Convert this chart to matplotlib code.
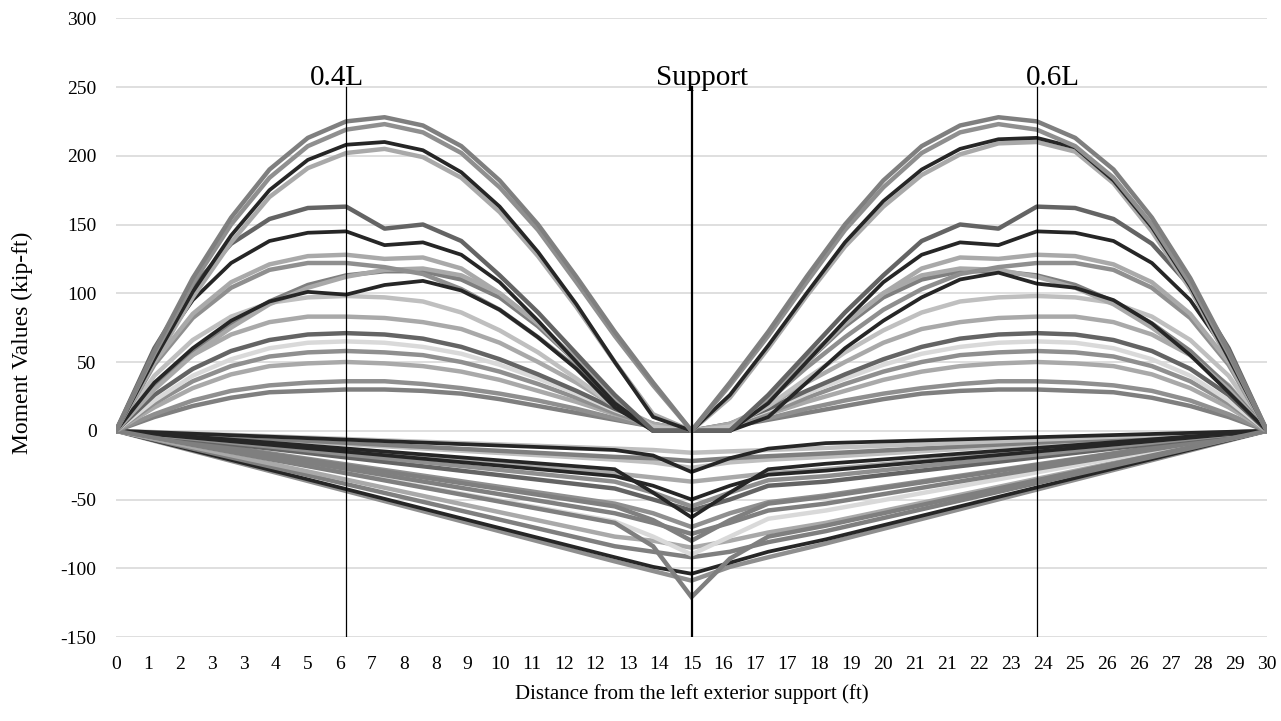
import matplotlib
matplotlib.use("Agg")
import matplotlib.pyplot as plt
import numpy as np

plt.rcParams['font.family'] = ['Liberation Serif', 'DejaVu Serif']

# ---------------- data ----------------
x_pos = list(range(0, 31))  # ft, positive-moment envelopes
tick_labels = ['0', '1', '2', '3', '3', '4', '5', '6', '7', '8', '8', '9', '10', '11', '12', '12',
               '13', '14', '15', '16', '17', '17', '18', '19', '20', '21', '21', '22', '23', '24',
               '25', '26', '26', '27', '28', '29', '30']

pos_top1 = [0, 58, 111, 155, 190, 213, 225, 228, 222, 207, 182, 150, 112, 72, 35, 0,
            35, 72, 112, 150, 182, 207, 222, 228, 225, 213, 190, 155, 111, 58, 0]
pos_top2 = [0, 56, 107, 150, 184, 207, 219, 223, 217, 202, 177, 146, 108, 69, 33, 0,
            33, 69, 108, 146, 177, 202, 217, 223, 219, 207, 184, 150, 107, 56, 0]
pos_lg205 = [0, 50, 97, 137, 170, 191, 202, 205, 199, 184, 159, 127, 90, 50, 12, 0,
             24, 60, 98, 134, 163, 186, 201, 209, 210, 203, 180, 145, 103, 51, 0]
pos_blk210 = [0, 52, 101, 142, 175, 197, 208, 210, 204, 188, 163, 130, 92, 50, 10, 0,
              26, 62, 100, 137, 167, 190, 205, 212, 213, 206, 182, 148, 105, 53, 0]
pos_g163 = [0, 60, 105, 136, 154, 162, 163, 147, 150, 138, 113, 86, 56, 26, 0, 0,
            0, 26, 56, 86, 113, 138, 150, 147, 163, 162, 154, 136, 105, 60, 0]
pos_b145 = [0, 55, 95, 122, 138, 144, 145, 135, 137, 128, 108, 80, 50, 20, 0, 0,
            0, 20, 50, 80, 108, 128, 137, 135, 145, 144, 138, 122, 95, 55, 0]
pos_lg128 = [0, 50, 85, 108, 121, 127, 128, 125, 126, 118, 100, 78, 52, 25, 0, 0,
             0, 25, 52, 78, 100, 118, 126, 125, 128, 127, 121, 108, 85, 50, 0]
pos_g122 = [0, 48, 82, 104, 117, 122, 122, 119, 114, 103, 88, 68, 46, 22, 0, 0,
            0, 22, 46, 68, 88, 103, 114, 119, 122, 122, 117, 104, 82, 48, 0]
pos_lg118 = [0, 30, 55, 75, 92, 104, 112, 117, 118, 113, 100, 78, 50, 20, 0, 0,
             0, 20, 50, 78, 100, 113, 118, 117, 112, 104, 92, 75, 55, 30, 0]
pos_g116 = [0, 32, 58, 78, 94, 106, 113, 116, 116, 110, 97, 76, 50, 22, 0, 0,
            0, 22, 50, 76, 97, 110, 116, 116, 113, 106, 94, 78, 58, 32, 0]
pos_b100 = [0, 35, 60, 80, 94, 101, 99, 106, 109, 102, 88, 68, 45, 17, 0, 0,
            0, 10, 35, 60, 80, 97, 110, 115, 107, 104, 95, 78, 55, 28, 0]
pos_lg98 = [0, 40, 66, 83, 93, 97, 98, 97, 94, 86, 73, 57, 38, 18, 3, 0,
            3, 18, 38, 57, 73, 86, 94, 97, 98, 97, 93, 83, 66, 40, 0]
pos_g83 = [0, 33, 55, 70, 79, 83, 83, 82, 79, 74, 64, 50, 35, 18, 5, 0,
           5, 18, 35, 50, 64, 74, 79, 82, 83, 83, 79, 70, 55, 33, 0]
pos_dg72 = [0, 26, 45, 58, 66, 70, 71, 70, 67, 61, 52, 41, 29, 16, 5, 0,
            5, 16, 29, 41, 52, 61, 67, 70, 71, 70, 66, 58, 45, 26, 0]
pos_vl65 = [0, 22, 40, 52, 60, 64, 65, 64, 61, 56, 48, 38, 27, 15, 5, 0,
            5, 15, 27, 38, 48, 56, 61, 64, 65, 64, 60, 52, 40, 22, 0]
pos_g58 = [0, 20, 36, 47, 54, 57, 58, 57, 55, 50, 43, 34, 24, 13, 4, 0,
           4, 13, 24, 34, 43, 50, 55, 57, 58, 57, 54, 47, 36, 20, 0]
pos_lg50 = [0, 17, 31, 41, 47, 49, 50, 49, 47, 43, 37, 29, 21, 12, 4, 0,
            4, 12, 21, 29, 37, 43, 47, 49, 50, 49, 47, 41, 31, 17, 0]
pos_g36 = [0, 12, 22, 29, 33, 35, 36, 36, 34, 31, 27, 22, 16, 9, 3, 0,
           3, 9, 16, 22, 27, 31, 34, 36, 36, 35, 33, 29, 22, 12, 0]
pos_g30 = [0, 10, 18, 24, 28, 29, 30, 30, 29, 27, 23, 18, 13, 8, 3, 0,
           3, 8, 13, 18, 23, 27, 29, 30, 30, 29, 28, 24, 18, 10, 0]

x_neg = [0, 13, 14, 15, 16, 17, 18.5, 30]  # ft, negative-moment envelopes
neg_b_top = [0, -14, -18, -30, -20, -13, -9, 0]
neg_lg16 = [0, -13, -14, -16, -15, -14, -12.5, 0]
neg_g22 = [0, -19, -20, -22, -20, -18.5, -16.5, 0]
neg_lg27 = [0, -21, -23, -27, -23, -21, -19, 0]
neg_b63 = [0, -28, -45, -63, -45, -28, -24, 0]
neg_lg37 = [0, -31, -34, -37, -34, -31, -28, 0]
neg_b50 = [0, -33, -40, -50, -40, -32, -29, 0]
neg_g55 = [0, -37, -45, -55, -45, -36, -33, 0]
neg_dg58 = [0, -42, -50, -58, -50, -40, -37, 0]
neg_g70 = [0, -53, -60, -70, -60, -52, -47, 0]
neg_g75 = [0, -60, -67, -75, -67, -58, -53, 0]
neg_g80 = [0, -55, -65, -80, -65, -53, -48, 0]
neg_vl90 = [0, -66, -77, -90, -77, -64, -58, 0]
neg_lg85 = [0, -77, -80, -85, -80, -74, -67, 0]
neg_g92 = [0, -84, -88, -92, -88, -81, -73, 0]
neg_g121 = [0, -67, -84, -121, -93, -77, -69, 0]
neg_g109 = [0, -95, -102, -109, -99, -92, -82, 0]
neg_b104 = [0, -92, -99, -104, -96, -88, -79, 0]

marker_x = [6, 15, 24]
marker_text = ['0.4L', 'Support', '0.6L']

# ---------------- styling ----------------
BLACK = '#262626'
DG = '#646464'
G = '#7f7f7f'
MG = '#8f8f8f'
LG = '#a9a9a9'
LLG = '#bfbfbf'
VLG = '#d9d9d9'

label_offsets = [-0.24, 0.27, 0.42]  # text box offsets from the marker lines (ft)

neg_series = [
    (neg_g109, MG), (neg_b104, BLACK), (neg_g92, G), (neg_lg85, LG), (neg_vl90, VLG),
    (neg_g75, G), (neg_g70, MG), (neg_g80, G), (neg_dg58, DG), (neg_g55, MG),
    (neg_lg37, LG), (neg_b50, BLACK), (neg_lg27, LLG), (neg_g22, G), (neg_lg16, LLG),
    (neg_b63, BLACK), (neg_b_top, BLACK), (neg_g121, G),
]
pos_series = [
    (pos_g30, G), (pos_g36, MG), (pos_lg50, LG), (pos_g58, MG), (pos_vl65, VLG),
    (pos_dg72, DG), (pos_g83, LG), (pos_lg98, LLG), (pos_g116, G), (pos_lg118, LG),
    (pos_g122, MG), (pos_lg128, LG), (pos_b100, BLACK), (pos_b145, BLACK), (pos_g163, DG),
    (pos_lg205, LG), (pos_blk210, BLACK), (pos_top2, MG), (pos_top1, G),
]

W, H = 1281, 721
fig = plt.figure(figsize=(W / 100, H / 100), dpi=100)
ax = fig.add_axes([116 / W, 1 - 637 / H, (1267 - 116) / W, (637 - 18.25) / H])

for vals, c in neg_series:
    lw = 2.7 if c == BLACK else 3.2
    ax.plot(x_neg, vals, color=c, lw=lw, solid_joinstyle='miter', zorder=2)
for vals, c in pos_series:
    lw = 2.7 if c == BLACK else 3.2
    ax.plot(x_pos, vals, color=c, lw=lw, solid_joinstyle='round', zorder=3)

for xm, txt, off in zip(marker_x, marker_text, label_offsets):
    ax.plot([xm, xm], [-150, 250], color='black', lw=1.6 if txt == 'Support' else 0.9, zorder=5)
    ax.text(xm + off, 251.5, txt, ha='center', va='baseline', fontsize=21, zorder=6)

ax.set_xlim(0, 30)
ax.set_ylim(-150, 300)
ax.set_yticks(np.arange(-150, 301, 50))
ax.set_yticklabels([str(v) for v in range(-150, 301, 50)], fontsize=14)
ax.set_xticks(np.linspace(0, 30, len(tick_labels)))
ax.set_xticklabels(tick_labels, fontsize=14)
ax.tick_params(axis='both', length=0)
ax.tick_params(axis='y', pad=14)
ax.tick_params(axis='x', pad=14)
ax.grid(axis='y', color='#d9d9d9', lw=1.2, zorder=0)
ax.set_axisbelow(True)
for s in ax.spines.values():
    s.set_visible(False)

ax.set_ylabel('Moment Values (kip-ft)', fontsize=17)
ax.yaxis.set_label_coords(-0.0725, 0.475)
ax.set_xlabel('Distance from the left exterior support (ft)', fontsize=15, labelpad=8)

fig.savefig('out.png', dpi=100)
